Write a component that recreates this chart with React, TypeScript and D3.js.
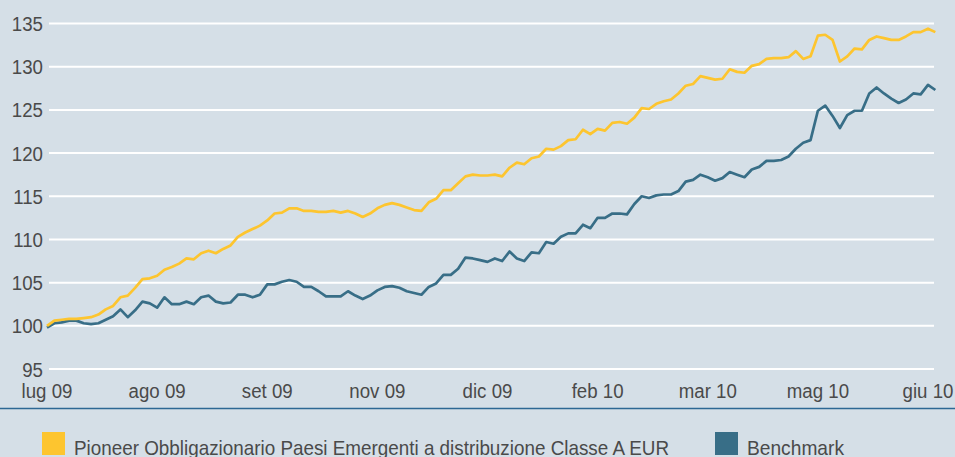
import { select, scaleLinear, line as d3Line } from "d3";
import { useEffect, useRef } from "react";

// fund NAV (rebased to 100)
const fund = [
  100.0, 100.6, 100.7, 100.8, 100.8, 100.9, 101.0, 101.3, 101.9, 102.3,
  103.3, 103.5, 104.4, 105.4, 105.5, 105.8, 106.5, 106.8, 107.2, 107.8,
  107.7, 108.4, 108.7, 108.4, 108.9, 109.3, 110.3, 110.8, 111.2, 111.6,
  112.2, 113.0, 113.1, 113.6, 113.6, 113.3, 113.3, 113.2, 113.2, 113.3,
  113.1, 113.3, 113.0, 112.6, 113.0, 113.6, 114.0, 114.2, 114.0, 113.7,
  113.4, 113.3, 114.3, 114.7, 115.7, 115.7, 116.5, 117.3, 117.5, 117.4,
  117.4, 117.5, 117.3, 118.3, 118.9, 118.7, 119.4, 119.6, 120.5, 120.4,
  120.8, 121.5, 121.6, 122.7, 122.2, 122.8, 122.6, 123.5, 123.6, 123.4,
  124.1, 125.2, 125.1, 125.7, 126.0, 126.2, 126.9, 127.8, 128.0, 128.9,
  128.7, 128.5, 128.6, 129.7, 129.4, 129.3, 130.1, 130.3, 130.9, 131.0,
  131.0, 131.1, 131.8, 130.9, 131.2, 133.6, 133.7, 133.1, 130.6, 131.2,
  132.1, 132.0, 133.1, 133.5, 133.3, 133.1, 133.1, 133.5, 134.0, 134.0,
  134.4, 134.0,
];

const benchmark = [
  99.8, 100.3, 100.4, 100.6, 100.6, 100.3, 100.2, 100.3, 100.7, 101.1,
  101.9, 101.0, 101.8, 102.8, 102.6, 102.1, 103.3, 102.5, 102.5, 102.8,
  102.5, 103.3, 103.5, 102.8, 102.6, 102.7, 103.6, 103.6, 103.3, 103.6,
  104.8, 104.8, 105.1, 105.3, 105.1, 104.5, 104.5, 104.0, 103.4, 103.4,
  103.4, 104.0, 103.5, 103.1, 103.5, 104.1, 104.5, 104.6, 104.4, 104.0,
  103.8, 103.6, 104.5, 104.9, 105.9, 105.9, 106.6, 107.9, 107.8, 107.6,
  107.4, 107.8, 107.5, 108.6, 107.8, 107.5, 108.5, 108.4, 109.7, 109.5,
  110.3, 110.7, 110.7, 111.7, 111.3, 112.5, 112.5, 113.0, 113.0, 112.9,
  114.1, 115.0, 114.8, 115.1, 115.2, 115.2, 115.6, 116.7, 116.9, 117.5,
  117.2, 116.8, 117.1, 117.8, 117.5, 117.2, 118.1, 118.4, 119.1, 119.1,
  119.2, 119.6, 120.5, 121.2, 121.5, 124.9, 125.5, 124.3, 122.9, 124.4,
  124.9, 124.9, 126.9, 127.6, 126.9, 126.3, 125.8, 126.2, 126.9, 126.8,
  127.9, 127.3,
];

const xTickIdx = [0, 15, 30, 45, 60, 75, 90, 105, 120];
const xTickLabels = [
  "lug 09", "ago 09", "set 09", "nov 09", "dic 09",
  "feb 10", "mar 10", "mag 10", "giu 10",
];
const yTicks = [95, 100, 105, 110, 115, 120, 125, 130, 135];

const seriesNames = [
  "Pioneer Obbligazionario Paesi Emergenti a distribuzione Classe A EUR",
  "Benchmark",
];
const seriesColors = ["#fdc52f", "#386e87"];

const W = 955;
const H = 457;
const FONT = "'Liberation Sans', Arial, sans-serif";
const SQUEEZE = 0.89; // the original face is a condensed grotesque

export default function App() {
  const ref = useRef<SVGSVGElement | null>(null);

  useEffect(() => {
    if (!ref.current) return;
    document.body.style.margin = "0";

    const svg = select(ref.current);
    svg.selectAll("*").remove();

    svg.append("rect").attr("width", W).attr("height", H).attr("fill", "#d5dfe7");

    const x = scaleLinear().domain([0, 120]).range([47, 928]);
    const y = scaleLinear().domain([95, 135]).range([369, 23.5]);

    const label = (px: number, py: number, str: string, anchor: string) =>
      svg
        .append("text")
        .attr("transform", `translate(${px},${py}) scale(${SQUEEZE},1)`)
        .attr("text-anchor", anchor)
        .attr("font-family", FONT)
        .attr("font-size", 21)
        .attr("fill", "#4a4a4a")
        .text(str);

    // gridlines + y labels
    yTicks.forEach((t) => {
      svg
        .append("line")
        .attr("x1", 49)
        .attr("x2", 934)
        .attr("y1", y(t))
        .attr("y2", y(t))
        .attr("stroke", "#ffffff")
        .attr("stroke-width", 2);
      label(43, y(t) + 7.5, String(t), "end");
    });

    // x labels
    xTickIdx.forEach((idx, i) => {
      label(x(idx), 398, xTickLabels[i], "middle");
    });

    // axis rule
    svg
      .append("line")
      .attr("x1", 0)
      .attr("x2", W)
      .attr("y1", 408.5)
      .attr("y2", 408.5)
      .attr("stroke", "#2d6894")
      .attr("stroke-width", 1.5);

    const line = d3Line<number>()
      .x((_, i) => x(i))
      .y((d) => y(d));

    [benchmark, fund].forEach((s, k) => {
      svg
        .append("path")
        .attr("d", line(s)!)
        .attr("fill", "none")
        .attr("stroke", k === 0 ? seriesColors[1] : seriesColors[0])
        .attr("stroke-width", 2.7)
        .attr("stroke-linejoin", "round");
    });

    // legend
    const legendX = [42, 715];
    const legendW = [595, 97];
    seriesNames.forEach((name, i) => {
      svg
        .append("rect")
        .attr("x", legendX[i])
        .attr("y", 432)
        .attr("width", 23)
        .attr("height", 23)
        .attr("fill", seriesColors[i]);
      svg
        .append("text")
        .attr("x", legendX[i] + 32)
        .attr("y", 455)
        .attr("font-family", FONT)
        .attr("font-size", 21)
        .attr("textLength", legendW[i])
        .attr("lengthAdjust", "spacingAndGlyphs")
        .attr("fill", "#4a4a4a")
        .text(name);
    });
  }, []);

  return (
    <svg
      ref={ref}
      width={W}
      height={H}
      style={{ position: "absolute", left: 0, top: 0, display: "block" }}
    ></svg>
  );
}
